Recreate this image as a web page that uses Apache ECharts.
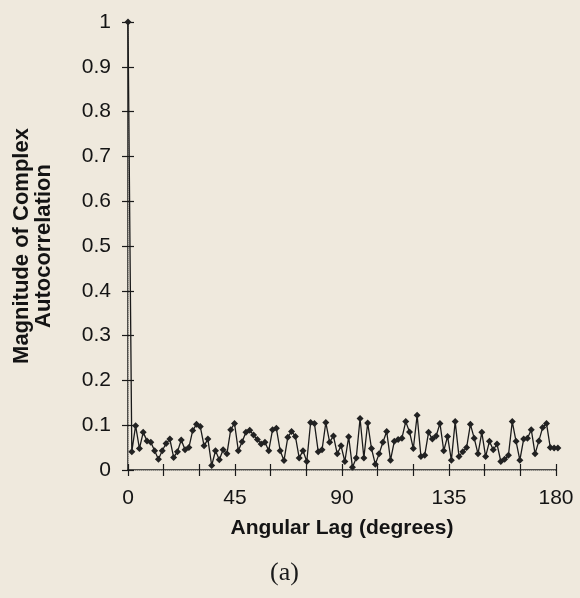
<!DOCTYPE html>
<html>
<head>
<meta charset="utf-8">
<script src="https://cdn.jsdelivr.net/npm/echarts@6/dist/echarts.min.js"></script>
<style>
  html, body { margin: 0; padding: 0; background: #efe9dd; }
  #chart { width: 580px; height: 598px; }
</style>
</head>
<body>
<div id="chart"></div>
<script>
// 自相关幅值数据 (lag step 1.6 deg)
const lagStep = 1.6;
const autocorr = [
  1,
  0.041, 0.099, 0.048, 0.084, 0.065, 0.062, 0.043, 0.024, 0.043, 0.059,
  0.069, 0.028, 0.041, 0.067, 0.045, 0.050, 0.088, 0.102, 0.097, 0.054,
  0.069, 0.010, 0.043, 0.023, 0.045, 0.036, 0.090, 0.104, 0.043, 0.063,
  0.084, 0.089, 0.078, 0.068, 0.058, 0.062, 0.043,
  0.090, 0.093, 0.043, 0.021, 0.073, 0.086, 0.075, 0.027, 0.043, 0.019,
  0.106, 0.104, 0.041, 0.045, 0.106, 0.062, 0.076, 0.036, 0.054, 0.019,
  0.074, 0.006, 0.027, 0.115, 0.027, 0.105, 0.048, 0.013, 0.036, 0.062,
  0.086, 0.022, 0.064, 0.068, 0.071, 0.108, 0.085,
  0.048, 0.122, 0.030, 0.033, 0.084, 0.069, 0.076, 0.104, 0.043, 0.075,
  0.022, 0.108, 0.030, 0.041, 0.050, 0.102, 0.071, 0.036, 0.084, 0.030,
  0.064, 0.045, 0.058, 0.019, 0.024, 0.033, 0.108, 0.064, 0.022, 0.069,
  0.071, 0.090, 0.036, 0.065, 0.095, 0.104, 0.050, 0.049, 0.049
];
const xLabels = [0, 45, 90, 135, 180];

const font = "'Liberation Sans', Arial, sans-serif";
const points = autocorr.map((v, i) => [i * lagStep, v]);

const myChart = echarts.init(document.getElementById('chart'));
const option = {
  backgroundColor: '#efe9dd',
  animation: false,
  grid: { left: 128, right: 24, top: 22, bottom: 128 },
  xAxis: [
    {
      type: 'value', min: 0, max: 180, interval: 15, position: 'bottom',
      name: 'Angular Lag (degrees)', nameLocation: 'middle', nameGap: 48,
      nameTextStyle: { fontFamily: font, fontSize: 21, fontWeight: 'bold', color: '#141414' },
      axisLine: { lineStyle: { color: '#1a1a1a', width: 1.5 } },
      axisTick: { length: 6, lineStyle: { color: '#1a1a1a', width: 1.2 } },
      axisLabel: {
        margin: 18, fontFamily: font, fontSize: 21, color: '#141414',
        formatter: v => xLabels.includes(v) ? String(v) : ''
      },
      splitLine: { show: false }
    },
    {
      type: 'value', min: 0, max: 180, interval: 15, position: 'bottom',
      axisLine: { show: false },
      axisTick: { inside: true, length: 6, lineStyle: { color: '#1a1a1a', width: 1.2 } },
      axisLabel: { show: false },
      splitLine: { show: false }
    },
    {
      type: 'value', min: 0, max: 180, position: 'top',
      axisLine: { lineStyle: { color: '#b8b4ac', type: 'dotted', width: 1 } },
      axisTick: { show: false }, axisLabel: { show: false }, splitLine: { show: false }
    }
  ],
  yAxis: [
    {
      type: 'value', min: 0, max: 1, interval: 0.1, position: 'left',
      name: 'Magnitude of Complex\nAutocorrelation', nameLocation: 'middle', nameGap: 73,
      nameTextStyle: { fontFamily: font, fontSize: 22, fontWeight: 'bold', color: '#141414', lineHeight: 22 },
      axisLine: { lineStyle: { color: '#1a1a1a', width: 1.5 } },
      axisTick: { length: 6, lineStyle: { color: '#1a1a1a', width: 1.2 } },
      axisLabel: { margin: 17, fontFamily: font, fontSize: 21, color: '#141414' },
      splitLine: { show: false }
    },
    {
      type: 'value', min: 0, max: 1, interval: 0.1, position: 'left',
      axisLine: { show: false },
      axisTick: { inside: true, length: 6, lineStyle: { color: '#1a1a1a', width: 1.2 } },
      axisLabel: { show: false },
      splitLine: { show: false }
    },
    {
      type: 'value', min: 0, max: 1, position: 'right',
      axisLine: { lineStyle: { color: '#b8b4ac', type: 'dotted', width: 1 } },
      axisTick: { show: false }, axisLabel: { show: false }, splitLine: { show: false }
    }
  ],
  graphic: [
    {
      type: 'text', left: 270, top: 560,
      style: { text: '(a)', font: "26px 'Liberation Serif', 'Times New Roman', serif", fill: '#1a1a1a' }
    }
  ],
  series: [
    {
      type: 'line',
      data: points,
      clip: false,
      symbol: 'diamond',
      symbolSize: 7,
      lineStyle: { color: '#1a1a1a', width: 1.3 },
      itemStyle: { color: '#222' }
    }
  ]
};
option && myChart.setOption(option);
</script>
</body>
</html>
